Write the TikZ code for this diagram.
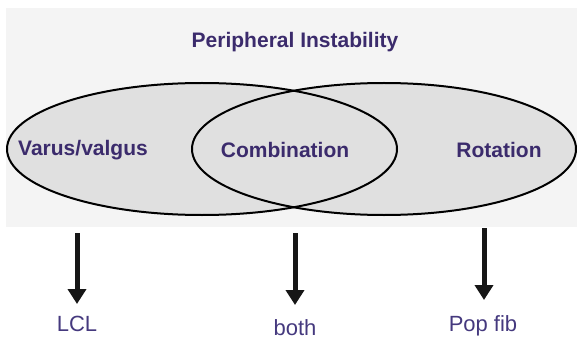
\documentclass[tikz,border=0pt]{standalone}
\usepackage{fontspec}
\setmainfont{Liberation Sans}
\usetikzlibrary{arrows.meta}
\definecolor{panelgray}{HTML}{F4F4F4}
\definecolor{setgray}{HTML}{E0E0E0}
\definecolor{inkpurple}{HTML}{3B2B6C}
\definecolor{labelpurple}{HTML}{45397E}
\definecolor{arrowblack}{HTML}{161616}
\tikzset{
  settitle/.style={font=\fontsize{21}{25}\selectfont\bfseries, text=inkpurple, inner sep=0pt},
  setlabel/.style={font=\fontsize{21}{25}\selectfont\bfseries, text=inkpurple, inner sep=0pt},
  outcome/.style={font=\fontsize{22}{26}\selectfont, text=labelpurple, inner sep=0pt, anchor=base},
  setshape/.style={draw=black, line width=2pt},
  downarrow/.style={draw=arrowblack, line width=5pt, -{Triangle[width=18pt,length=15pt]}}
}
\begin{document}
\begin{tikzpicture}[x=1pt,y=-1pt]
  \useasboundingbox (0,0) rectangle (577,339);
  % background panel
  \fill[panelgray] (6,8) rectangle (577,227);
  % the two overlapping sets
  \fill[setgray] (202,149) ellipse [x radius=195pt, y radius=66pt];
  \fill[setgray] (384,149) ellipse [x radius=192pt, y radius=66pt];
  \draw[setshape] (202,149) ellipse [x radius=195pt, y radius=66pt];
  \draw[setshape] (384,149) ellipse [x radius=192pt, y radius=66pt];
  % captions
  \node[settitle] (title) at (295,42) {Peripheral Instability};
  \node[setlabel] (varus) at (83,150) {Varus/valgus};
  \node[setlabel] (combo) at (285,150) {Combination};
  \node[setlabel] (rot) at (499,150) {Rotation};
  % outcomes
  \node[outcome] (lcl) at (77,331) {LCL};
  \node[outcome] (both) at (295,335) {both};
  \node[outcome] (popfib) at (483,331) {Pop fib};
  \coordinate (lclTop) at (77,233);
  \coordinate (lclTip) at (77,304);
  \coordinate (bothTop) at (295,233);
  \coordinate (bothTip) at (295,305);
  \coordinate (popTop) at (484,228);
  \coordinate (popTip) at (484,300);
  \draw[downarrow] (lclTop) -- (lclTip);
  \draw[downarrow] (bothTop) -- (bothTip);
  \draw[downarrow] (popTop) -- (popTip);
\end{tikzpicture}
\end{document}
